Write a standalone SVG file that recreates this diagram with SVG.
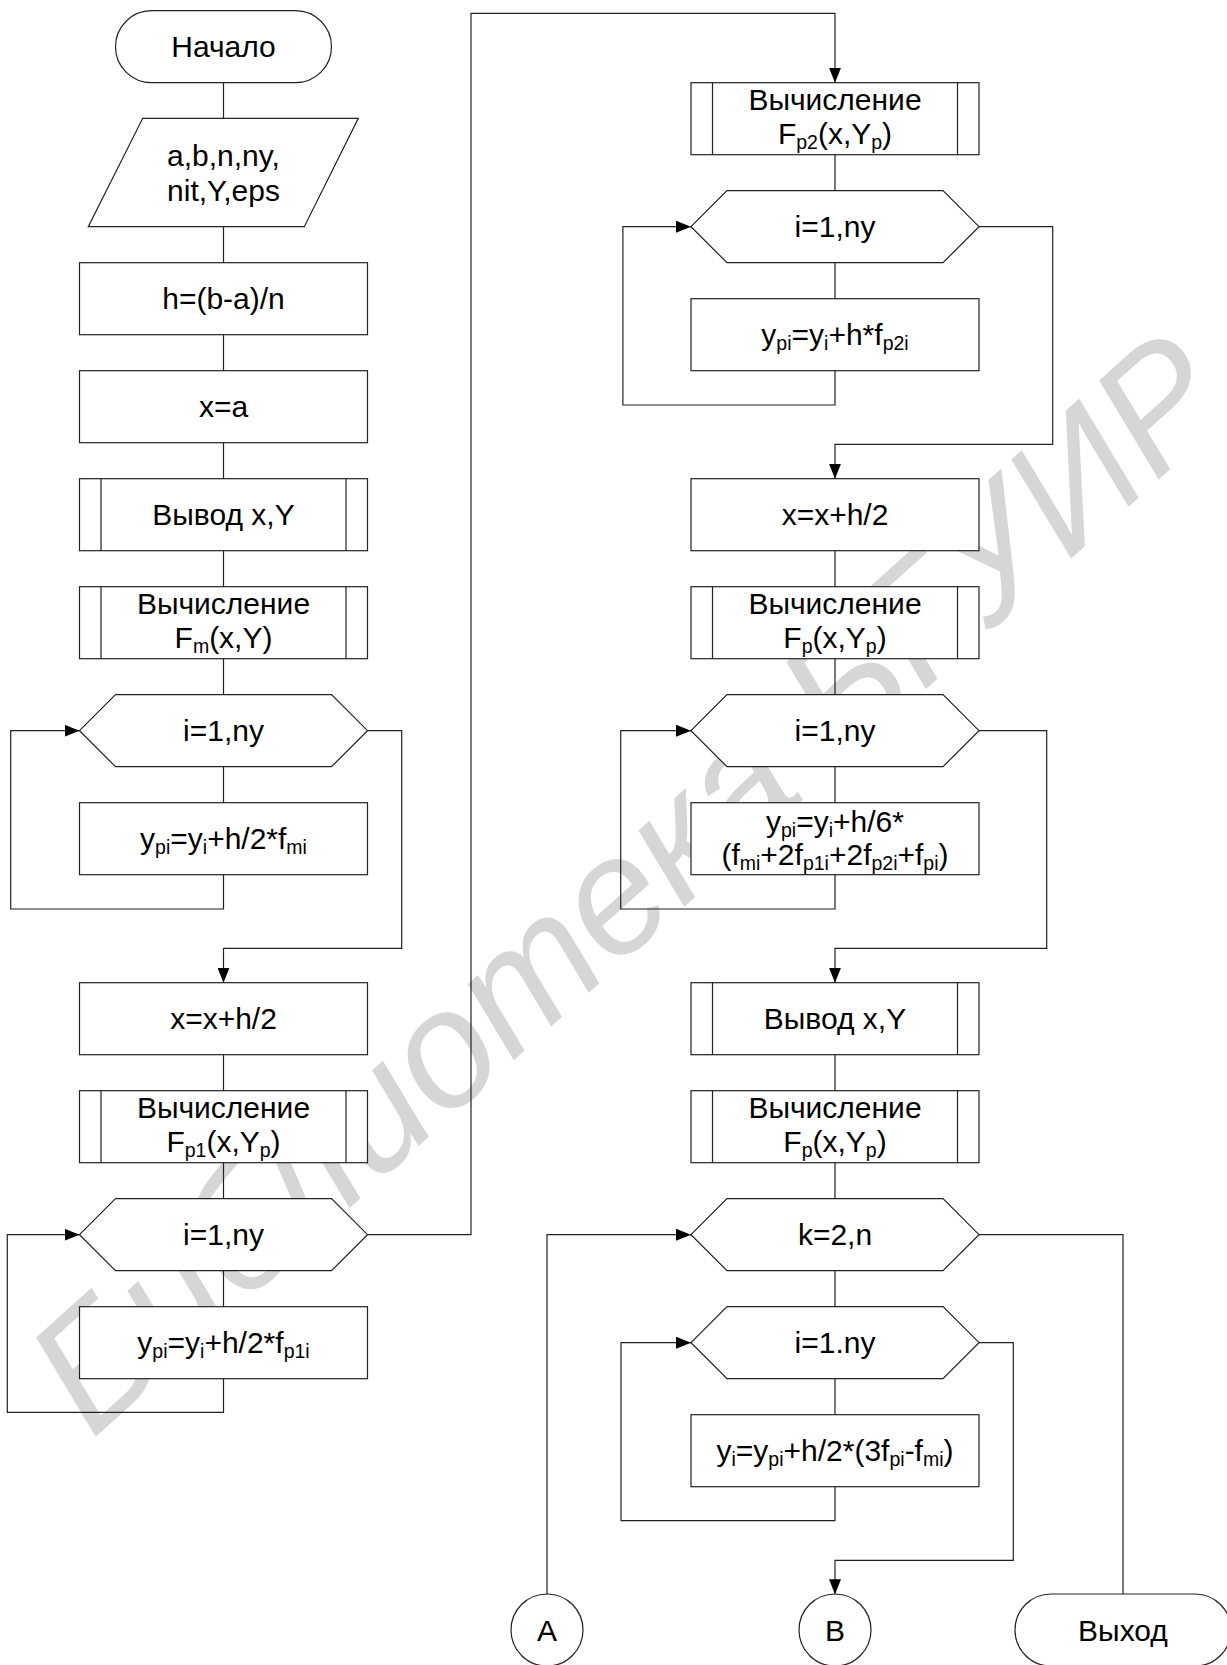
<svg xmlns="http://www.w3.org/2000/svg" width="1227" height="1665" viewBox="0 0 1227 1665">
<style>
.b{fill:#fff;stroke:#222;stroke-width:1.2}
.c{fill:none;stroke:#222;stroke-width:1.2}
.t{font-family:"Liberation Sans",Arial,sans-serif;font-size:30px;fill:#000;text-anchor:middle}
.s{font-size:19.5px}
.wm{font-family:"Liberation Sans",Arial,sans-serif;font-size:165px;font-style:italic;fill:#d6d6d6}
</style>
<defs>
<marker id="arr" markerWidth="15" markerHeight="12" refX="15" refY="6" orient="auto" markerUnits="userSpaceOnUse"><path d="M0,0 L15,6 L0,12 z" fill="#000"/></marker>
</defs>
<rect width="1227" height="1665" fill="#fff"/>
<g id="watermark"><text class="wm" transform="translate(92,1440) rotate(-42)">Библиотека БГУИР</text></g>
<g id="connectors">
<path class="c" d="M223.5,82.7V118.3M223.5,226.7V262.7M223.5,334.7V370.7M223.5,442.7V478.7M223.5,550.7V586.7M223.5,658.7V694.7M223.5,766.7V802.7"/>
<path class="c" d="M223.5,874.7V909H10.7V730.7H79.5" marker-end="url(#arr)"/>
<path class="c" d="M367.5,730.7H401.7V948.3H223.5V982.7" marker-end="url(#arr)"/>
<path class="c" d="M223.5,1054.7V1090.7M223.5,1162.7V1198.7M223.5,1270.7V1306.7"/>
<path class="c" d="M223.5,1378.7V1412.3H7.3V1234.7H79.5" marker-end="url(#arr)"/>
<path class="c" d="M367.5,1234.7H471V13.3H835V82.7" marker-end="url(#arr)"/>
<path class="c" d="M835,154.7V190.7M835,262.7V298.7"/>
<path class="c" d="M835,370.7V405H622.9V226.7H691" marker-end="url(#arr)"/>
<path class="c" d="M979,226.7H1052.7V444.3H835V478.7" marker-end="url(#arr)"/>
<path class="c" d="M835,550.7V586.7M835,658.7V694.7M835,766.7V802.7"/>
<path class="c" d="M835,874.7V909H620.7V730.7H691" marker-end="url(#arr)"/>
<path class="c" d="M979,730.7H1046.7V948.3H835V982.7" marker-end="url(#arr)"/>
<path class="c" d="M835,1054.7V1090.7M835,1162.7V1198.7M835,1270.7V1306.7M835,1378.7V1414.7"/>
<path class="c" d="M835,1486.7V1520.7H621V1342.7H691" marker-end="url(#arr)"/>
<path class="c" d="M979,1342.7H1013.3V1560.3H835V1594.3" marker-end="url(#arr)"/>
<path class="c" d="M547,1594V1234.7H691" marker-end="url(#arr)"/>
<path class="c" d="M979,1234.7H1123V1594"/>
</g>
<g id="start"><rect class="b" x="115.5" y="10.7" width="216" height="72" rx="36"/><text class="t" x="223.5" y="57.2">Начало</text></g>
<g id="input"><polygon class="b" points="142.7,118.3 358.3,118.3 304.3,226.7 88.3,226.7"/><text class="t" x="223.5" y="165.5">a,b,n,ny,</text><text class="t" x="223.5" y="200.5">nit,Y,eps</text></g>
<g id="h"><rect class="b" x="79.5" y="262.7" width="288" height="72"/><text class="t" x="223.5" y="309">h=(b-a)/n</text></g>
<g id="xa"><rect class="b" x="79.5" y="370.7" width="288" height="72"/><text class="t" x="223.5" y="417">x=a</text></g>
<g id="out1"><rect class="b" x="79.5" y="478.7" width="288" height="72"/><path class="c" d="M101,478.7V550.7M346,478.7V550.7"/><text class="t" x="223.5" y="525">Вывод x,Y</text></g>
<g id="fm"><rect class="b" x="79.5" y="586.7" width="288" height="72"/><path class="c" d="M101,586.7V658.7M346,586.7V658.7"/><text class="t" x="223.5" y="614">Вычисление</text><text class="t" x="223.5" y="648">F<tspan class="s" dy="5">m</tspan><tspan dy="-5">(x,Y)</tspan></text></g>
<g id="loop1"><polygon class="b" points="79.5,730.7 115.5,694.7 331.5,694.7 367.5,730.7 331.5,766.7 115.5,766.7"/><text class="t" x="223.5" y="741">i=1,ny</text></g>
<g id="yp1"><rect class="b" x="79.5" y="802.7" width="288" height="72"/><text class="t" x="223.5" y="849">y<tspan class="s" dy="5">pi</tspan><tspan dy="-5">=y</tspan><tspan class="s" dy="5">i</tspan><tspan dy="-5">+h/2*f</tspan><tspan class="s" dy="5">mi</tspan></text></g>
<g id="xh1"><rect class="b" x="79.5" y="982.7" width="288" height="72"/><text class="t" x="223.5" y="1029">x=x+h/2</text></g>
<g id="fp1"><rect class="b" x="79.5" y="1090.7" width="288" height="72"/><path class="c" d="M101,1090.7V1162.7M346,1090.7V1162.7"/><text class="t" x="223.5" y="1118">Вычисление</text><text class="t" x="223.5" y="1152">F<tspan class="s" dy="5">p1</tspan><tspan dy="-5">(x,Y</tspan><tspan class="s" dy="5">p</tspan><tspan dy="-5">)</tspan></text></g>
<g id="loop2"><polygon class="b" points="79.5,1234.7 115.5,1198.7 331.5,1198.7 367.5,1234.7 331.5,1270.7 115.5,1270.7"/><text class="t" x="223.5" y="1245">i=1,ny</text></g>
<g id="yp2"><rect class="b" x="79.5" y="1306.7" width="288" height="72"/><text class="t" x="223.5" y="1353">y<tspan class="s" dy="5">pi</tspan><tspan dy="-5">=y</tspan><tspan class="s" dy="5">i</tspan><tspan dy="-5">+h/2*f</tspan><tspan class="s" dy="5">p1i</tspan></text></g>
<g id="fp2"><rect class="b" x="691" y="82.7" width="288" height="72"/><path class="c" d="M712.5,82.7V154.7M957.5,82.7V154.7"/><text class="t" x="835" y="110">Вычисление</text><text class="t" x="835" y="144">F<tspan class="s" dy="5">p2</tspan><tspan dy="-5">(x,Y</tspan><tspan class="s" dy="5">p</tspan><tspan dy="-5">)</tspan></text></g>
<g id="loop3"><polygon class="b" points="691,226.7 727,190.7 943,190.7 979,226.7 943,262.7 727,262.7"/><text class="t" x="835" y="237">i=1,ny</text></g>
<g id="yp3"><rect class="b" x="691" y="298.7" width="288" height="72"/><text class="t" x="835" y="345">y<tspan class="s" dy="5">pi</tspan><tspan dy="-5">=y</tspan><tspan class="s" dy="5">i</tspan><tspan dy="-5">+h*f</tspan><tspan class="s" dy="5">p2i</tspan></text></g>
<g id="xh2"><rect class="b" x="691" y="478.7" width="288" height="72"/><text class="t" x="835" y="525">x=x+h/2</text></g>
<g id="fp"><rect class="b" x="691" y="586.7" width="288" height="72"/><path class="c" d="M712.5,586.7V658.7M957.5,586.7V658.7"/><text class="t" x="835" y="614">Вычисление</text><text class="t" x="835" y="648">F<tspan class="s" dy="5">p</tspan><tspan dy="-5">(x,Y</tspan><tspan class="s" dy="5">p</tspan><tspan dy="-5">)</tspan></text></g>
<g id="loop4"><polygon class="b" points="691,730.7 727,694.7 943,694.7 979,730.7 943,766.7 727,766.7"/><text class="t" x="835" y="741">i=1,ny</text></g>
<g id="yp4"><rect class="b" x="691" y="802.7" width="288" height="72"/><text class="t" x="835" y="831.5">y<tspan class="s" dy="5">pi</tspan><tspan dy="-5">=y</tspan><tspan class="s" dy="5">i</tspan><tspan dy="-5">+h/6*</tspan></text><text class="t" x="835" y="865">(f<tspan class="s" dy="5">mi</tspan><tspan dy="-5">+2f</tspan><tspan class="s" dy="5">p1i</tspan><tspan dy="-5">+2f</tspan><tspan class="s" dy="5">p2i</tspan><tspan dy="-5">+f</tspan><tspan class="s" dy="5">pi</tspan><tspan dy="-5">)</tspan></text></g>
<g id="out2"><rect class="b" x="691" y="982.7" width="288" height="72"/><path class="c" d="M712.5,982.7V1054.7M957.5,982.7V1054.7"/><text class="t" x="835" y="1029">Вывод x,Y</text></g>
<g id="fp3"><rect class="b" x="691" y="1090.7" width="288" height="72"/><path class="c" d="M712.5,1090.7V1162.7M957.5,1090.7V1162.7"/><text class="t" x="835" y="1118">Вычисление</text><text class="t" x="835" y="1152">F<tspan class="s" dy="5">p</tspan><tspan dy="-5">(x,Y</tspan><tspan class="s" dy="5">p</tspan><tspan dy="-5">)</tspan></text></g>
<g id="loopk"><polygon class="b" points="691,1234.7 727,1198.7 943,1198.7 979,1234.7 943,1270.7 727,1270.7"/><text class="t" x="835" y="1245">k=2,n</text></g>
<g id="loop5"><polygon class="b" points="691,1342.7 727,1306.7 943,1306.7 979,1342.7 943,1378.7 727,1378.7"/><text class="t" x="835" y="1353">i=1.ny</text></g>
<g id="yi"><rect class="b" x="691" y="1414.7" width="288" height="72"/><text class="t" x="835" y="1461">y<tspan class="s" dy="5">i</tspan><tspan dy="-5">=y</tspan><tspan class="s" dy="5">pi</tspan><tspan dy="-5">+h/2*(3f</tspan><tspan class="s" dy="5">pi</tspan><tspan dy="-5">-f</tspan><tspan class="s" dy="5">mi</tspan><tspan dy="-5">)</tspan></text></g>
<g id="connA"><circle class="b" cx="547" cy="1630" r="36"/><text class="t" x="547" y="1641">A</text></g>
<g id="connB"><circle class="b" cx="835" cy="1630" r="36"/><text class="t" x="835" y="1641">B</text></g>
<g id="exit"><rect class="b" x="1015" y="1594" width="216" height="72" rx="36"/><text class="t" x="1123" y="1641">Выход</text></g>
</svg>
